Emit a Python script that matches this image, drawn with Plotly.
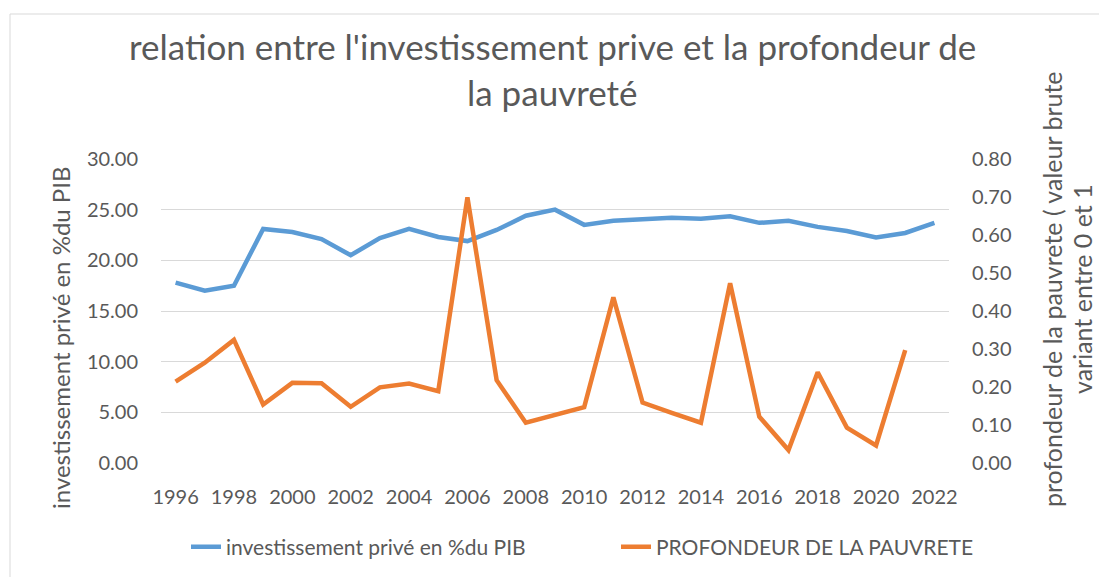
import plotly.graph_objects as go

years = list(range(1996, 2023))
invest = [17.8, 17.0, 17.5, 23.1, 22.8, 22.1, 20.5, 22.2, 23.1, 22.3, 21.9,
          23.0, 24.4, 25.0, 23.5, 23.9, 24.05, 24.2, 24.1, 24.35, 23.7, 23.9,
          23.3, 22.9, 22.25, 22.7, 23.7]
pauvrete = [0.214, 0.264, 0.324, 0.154, 0.211, 0.210, 0.148, 0.199, 0.209, 0.189,
            0.699, 0.218, 0.106, 0.125, 0.147, 0.436, 0.159, 0.132, 0.106, 0.473,
            0.122, 0.034, 0.239, 0.093, 0.046, 0.297, None]
xticks = list(range(1996, 2023, 2))

name1 = "investissement privé en %du PIB"
name2 = "PROFONDEUR DE LA PAUVRETE"
title1 = "relation entre l'investissement prive et la profondeur de"
title2 = "la pauvreté"
ytitle = "investissement privé en %du PIB"
y2title1 = "profondeur de la pauvrete ( valeur brute"
y2title2 = "variant entre 0 et 1"

FONT = "Lato, Calibri, Carlito, sans-serif"
GREY = "#595959"

fig = go.Figure()
fig.add_trace(go.Scatter(x=years, y=invest, name=name1, mode="lines",
                         line=dict(color="#5B9BD5", width=4.5), legend="legend"))
fig.add_trace(go.Scatter(x=years, y=pauvrete, name=name2, mode="lines",
                         line=dict(color="#ED7D31", width=4.5), yaxis="y2",
                         legend="legend2"))

W, H = 1107, 577
OFF = 8  # page offset of the figure
# plot area in page coordinates: x 161..949, y 159..463
L = 161 - OFF
T = 159 - OFF
R = W - (949 - OFF)
B = H - (463 - OFF)
pw, ph = W - L - R, H - T - B

def px(x):
    return (x - OFF - L) / pw

def py(y):
    return (H - B - (y - OFF)) / ph

leg_common = dict(orientation="h", y=py(547), xanchor="left", yanchor="middle",
                  font=dict(size=21, color=GREY), itemwidth=30,
                  bgcolor="rgba(0,0,0,0)")

fig.update_layout(
    width=W, height=H,
    margin=dict(l=L, r=R, t=T, b=B),
    paper_bgcolor="white", plot_bgcolor="white",
    font=dict(family=FONT, color=GREY, size=20),
    showlegend=True,
    legend=dict(x=px(186), **leg_common),
    legend2=dict(x=px(616), **leg_common),
    xaxis=dict(range=[1995.5, 2022.5], tickvals=xticks, showgrid=False, zeroline=False,
               showline=False, ticks="", ticklabelstandoff=20,
               tickfont=dict(size=20, color=GREY)),
    yaxis=dict(range=[0, 30], dtick=5, tickformat=".2f", showgrid=True,
               gridcolor="#d9d9d9", gridwidth=1, zeroline=False, showline=False,
               ticks="", ticklabelstandoff=22, tickfont=dict(size=20, color=GREY)),
    yaxis2=dict(range=[0, 0.8], dtick=0.1, tickformat=".2f", overlaying="y", side="right",
                showgrid=False, zeroline=False, showline=False, ticks="",
                ticklabelstandoff=22, tickfont=dict(size=20, color=GREY)),
)

ann = [
    dict(text=title1, x=px(552), y=py(46), font=dict(size=35, color=GREY, family=FONT)),
    dict(text=title2, x=px(552), y=py(92), font=dict(size=35, color=GREY, family=FONT)),
    dict(text=ytitle, x=px(60), y=py(338), textangle=-90, font=dict(size=24, color=GREY, family=FONT)),
    dict(text=y2title1, x=px(1052), y=py(289), textangle=-90, font=dict(size=25, color=GREY, family=FONT)),
    dict(text=y2title2, x=px(1082), y=py(289), textangle=-90, font=dict(size=25, color=GREY, family=FONT)),
]
for a in ann:
    a.update(xref="paper", yref="paper", showarrow=False, xanchor="center", yanchor="middle")
fig.update_layout(annotations=ann)

fig.add_shape(type="rect", xref="paper", yref="paper",
              x0=px(10), y0=py(14), x1=px(1140), y1=py(620),
              line=dict(color="#d9d9d9", width=1), fillcolor="rgba(0,0,0,0)", layer="below")

fig.write_html("out.html")
